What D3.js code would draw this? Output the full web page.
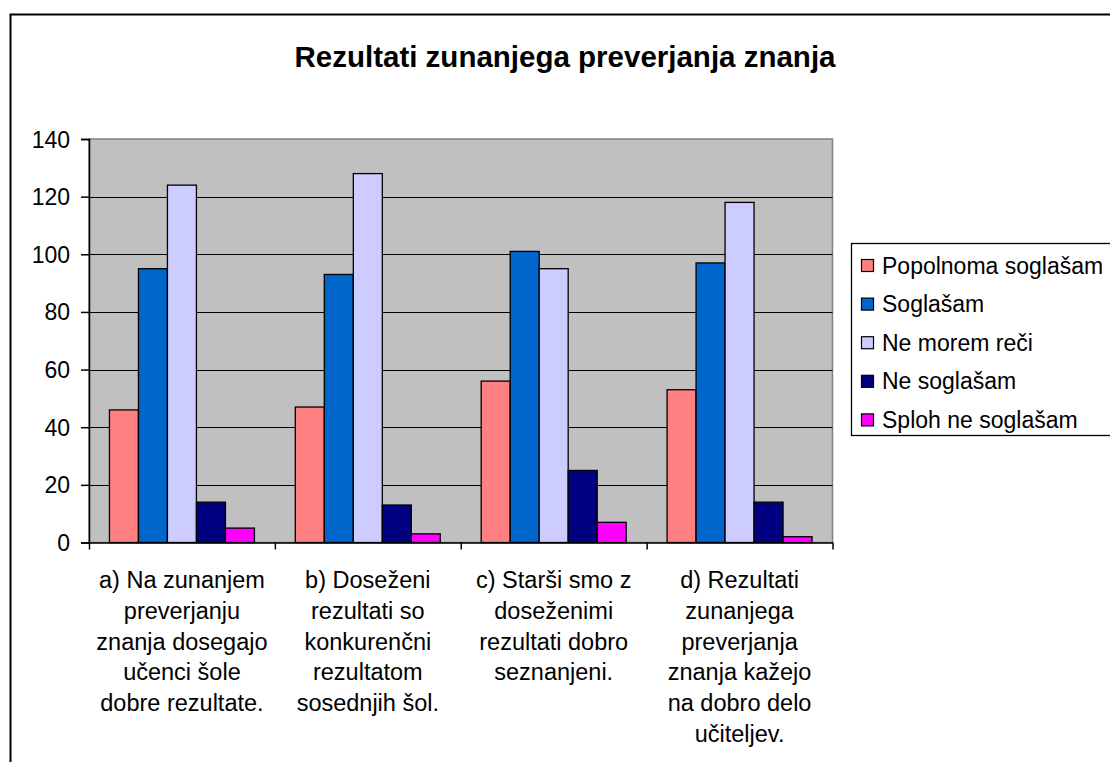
<!DOCTYPE html>
<html>
<head>
<meta charset="utf-8">
<script src="https://cdn.jsdelivr.net/npm/d3@7"></script>
<style>
  body { margin: 0; background: white; }
  text { font-family: "Liberation Sans", Arial, sans-serif; fill: #000; }
</style>
</head>
<body>
<div id="chart"></div>
<script>
// data
const categories = ["a", "b", "c", "d"];
const categoryLines = [
    ["a) Na zunanjem", "preverjanju", "znanja dosegajo", "učenci šole", "dobre rezultate."],
    ["b) Doseženi", "rezultati so", "konkurenčni", "rezultatom", "sosednjih šol."],
    ["c) Starši smo z", "doseženimi", "rezultati dobro", "seznanjeni."],
    ["d) Rezultati", "zunanjega", "preverjanja", "znanja kažejo", "na dobro delo", "učiteljev."]
];
const seriesNames = ["Popolnoma soglašam", "Soglašam", "Ne morem reči", "Ne soglašam", "Sploh ne soglašam"];
const popolnomaSoglasam = [46, 47, 56, 53];
const soglasam = [95, 93, 101, 97];
const neMoremReci = [124, 128, 95, 118];
const neSoglasam = [14, 13, 25, 14];
const splohNeSoglasam = [5, 3, 7, 2];
const seriesValues = [popolnomaSoglasam, soglasam, neMoremReci, neSoglasam, splohNeSoglasam];
const seriesColors = ["#FF8080", "#0066CC", "#CCCCFF", "#000080", "#FF00FF"];
const yTicks = [0, 20, 40, 60, 80, 100, 120, 140];

const w = 1110;
const h = 762;
const plot = { left: 89, right: 832.5, top: 139, bottom: 542.5 };

const svg = d3.select("#chart")
              .append("svg")
              .attr("width", w)
              .attr("height", h);

// outer chart frame (runs off the right and bottom edge)
svg.append("rect")
   .attr("x", 10.5).attr("y", 14.5)
   .attr("width", w).attr("height", h + 50)
   .attr("fill", "white")
   .attr("stroke", "#000")
   .attr("stroke-width", 2);

svg.append("text")
   .attr("x", 565)
   .attr("y", 67)
   .attr("text-anchor", "middle")
   .style("font-size", "29.5px")
   .style("font-weight", "bold")
   .text("Rezultati zunanjega preverjanja znanja");

const x0 = d3.scaleBand()
             .domain(categories)
             .range([plot.left, plot.right])
             .paddingInner(0.22)
             .paddingOuter(0.11);

const x1 = d3.scaleBand()
             .domain(seriesNames)
             .range([0, x0.bandwidth()]);

const xEdges = d3.scaleLinear()
                 .domain([0, categories.length])
                 .range([plot.left, plot.right]);

const y = d3.scaleLinear()
            .domain([0, 140])
            .range([plot.bottom, plot.top]);

svg.append("rect")
   .attr("x", plot.left).attr("y", plot.top)
   .attr("width", plot.right - plot.left)
   .attr("height", plot.bottom - plot.top)
   .attr("fill", "#C0C0C0")
   .attr("stroke", "#808080")
   .attr("stroke-width", 1.5);

svg.append("g")
   .selectAll("line")
   .data(yTicks.filter(t => t > 0 && t < 140))
   .enter()
   .append("line")
   .attr("x1", plot.left).attr("x2", plot.right)
   .attr("y1", d => Math.round(y(d)) + 0.5)
   .attr("y2", d => Math.round(y(d)) + 0.5)
   .attr("stroke", "#000")
   .attr("stroke-width", 1.2);

const groups = svg.append("g")
   .selectAll("g")
   .data(categories)
   .enter()
   .append("g")
   .attr("transform", d => "translate(" + x0(d) + ",0)");

groups.selectAll("rect")
      .data((d, i) => seriesNames.map((s, j) => ({ s: s, v: seriesValues[j][i], c: seriesColors[j] })))
      .enter()
      .append("rect")
      .attr("x", d => x1(d.s))
      .attr("y", d => y(d.v))
      .attr("width", x1.bandwidth())
      .attr("height", d => y(0) - y(d.v))
      .attr("fill", d => d.c)
      .attr("stroke", "#000")
      .attr("stroke-width", 1.3);

const yAxis = d3.axisLeft(y).tickValues(yTicks).tickSize(8).tickPadding(11);
const yg = svg.append("g")
   .attr("transform", "translate(" + plot.left + ",0)")
   .call(yAxis);
yg.selectAll("text").style("font-size", "23px").attr("dy", "0.35em");
yg.selectAll("line, path").attr("stroke", "#000").attr("stroke-width", 1.5);

const xAxis = d3.axisBottom(xEdges).tickValues(d3.range(categories.length + 1)).tickFormat("").tickSize(7).tickSizeOuter(0);
const xg = svg.append("g")
   .attr("transform", "translate(0," + plot.bottom + ")")
   .call(xAxis);
xg.selectAll("line, path").attr("stroke", "#000").attr("stroke-width", 1.5);

// wrapped category labels
svg.append("g")
   .selectAll("text")
   .data(categories)
   .enter()
   .append("text")
   .attr("text-anchor", "middle")
   .style("font-size", "23.5px")
   .attr("transform", d => "translate(" + (x0(d) + x0.bandwidth() / 2) + ",588)")
   .selectAll("tspan")
   .data((d, i) => categoryLines[i])
   .enter()
   .append("tspan")
   .attr("x", 0)
   .attr("y", (d, i) => i * 30.8)
   .text(d => d);

// legend
const legend = svg.append("g");
legend.append("rect")
      .attr("x", 851.5).attr("y", 243.5)
      .attr("width", 300).attr("height", 192)
      .attr("fill", "white")
      .attr("stroke", "#000")
      .attr("stroke-width", 1.3);

const items = legend.selectAll("g.item")
      .data(seriesNames)
      .enter()
      .append("g")
      .attr("class", "item")
      .attr("transform", (d, i) => "translate(861," + (265.5 + i * 38.6) + ")");

items.append("rect")
     .attr("x", 0.5).attr("y", -6)
     .attr("width", 12).attr("height", 12)
     .attr("fill", (d, i) => seriesColors[i])
     .attr("stroke", "#000")
     .attr("stroke-width", 1.2);

items.append("text")
     .attr("x", 21)
     .attr("y", 0)
     .attr("dy", "0.35em")
     .style("font-size", "23px")
     .text(d => d);
</script>
</body>
</html>
